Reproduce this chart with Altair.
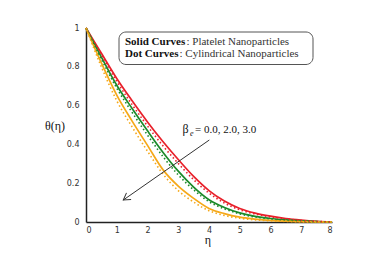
import altair as alt
import pandas as pd

eta = [0, 0.5, 1, 1.5, 2, 2.5, 3, 3.5, 4, 4.5, 5, 5.5, 6, 6.5, 7, 7.5, 8]

red_solid = [1, 0.87, 0.74, 0.625, 0.516, 0.415, 0.322, 0.235, 0.162, 0.108, 0.07, 0.046, 0.03, 0.018, 0.01, 0.004, 0]
red_dot = [1, 0.86, 0.725, 0.605, 0.495, 0.393, 0.302, 0.218, 0.149, 0.098, 0.063, 0.041, 0.026, 0.016, 0.008, 0.003, 0]
green_solid = [1, 0.85, 0.705, 0.585, 0.47, 0.36, 0.262, 0.18, 0.115, 0.075, 0.047, 0.029, 0.018, 0.011, 0.006, 0.002, 0]
green_dot = [1, 0.84, 0.69, 0.565, 0.448, 0.338, 0.243, 0.166, 0.105, 0.068, 0.042, 0.026, 0.016, 0.009, 0.005, 0.002, 0]
orange_solid = [1, 0.82, 0.654, 0.52, 0.395, 0.27, 0.185, 0.122, 0.07, 0.043, 0.025, 0.015, 0.008, 0.004, 0.002, 0.001, 0]
orange_dot = [1, 0.80, 0.625, 0.49, 0.365, 0.248, 0.162, 0.103, 0.058, 0.034, 0.019, 0.011, 0.006, 0.003, 0.001, 0, 0]

series_names = ["red", "green", "orange"]
series_colors = ["#e8202a", "#1b8a2a", "#f5a818"]
x_ticks = [0, 1, 2, 3, 4, 5, 6, 7, 8]
y_ticks = [0, 0.2, 0.4, 0.6, 0.8, 1]

rows = []
for name, style, vals in [
    ("red", "solid", red_solid), ("red", "dot", red_dot),
    ("green", "solid", green_solid), ("green", "dot", green_dot),
    ("orange", "solid", orange_solid), ("orange", "dot", orange_dot),
]:
    for e, v in zip(eta, vals):
        rows.append({"eta": e, "theta": v, "series": name, "style": style, "key": name + style})
df = pd.DataFrame(rows)

W, H = 246, 194

x_enc = alt.X("eta:Q", scale=alt.Scale(domain=[0, 8], nice=False),
              axis=alt.Axis(values=x_ticks, format="d", title=None, grid=False, ticks=False,
                            domainColor="#222", domainWidth=1.5, labelFont="DejaVu Sans",
                            labelFontSize=8, labelColor="#333", labelPadding=4))
y_enc = alt.Y("theta:Q", scale=alt.Scale(domain=[0, 1], nice=False),
              axis=alt.Axis(values=y_ticks, format="~g", title=None, grid=False, ticks=False,
                            domainColor="#222", domainWidth=1.5, labelFont="DejaVu Sans",
                            labelFontSize=8, labelColor="#333", labelPadding=7))

color = alt.Color("series:N", scale=alt.Scale(domain=series_names, range=series_colors), legend=None)

solid = alt.Chart(df[df["style"] == "solid"]).mark_line(strokeWidth=1.7, interpolate="monotone").encode(
    x=x_enc, y=y_enc, color=color, detail="key:N")
dot = alt.Chart(df[df["style"] == "dot"]).mark_line(strokeWidth=1.6, strokeDash=[1.5, 2.5],
                                                    interpolate="monotone").encode(
    x=x_enc, y=y_enc, color=color, detail="key:N")

one = pd.DataFrame({"a": [0]})

box = alt.Chart(one).mark_rect(cornerRadius=7, fill="white", stroke="#555", strokeWidth=1).encode(
    x=alt.value(33), x2=alt.value(227), y=alt.value(4), y2=alt.value(36.5))

def txt(s, x, y, size, weight="normal", style="normal", font="Liberation Serif", align="left",
        baseline="alphabetic", color="#111"):
    return alt.Chart(one).mark_text(text=s, font=font, fontSize=size, fontWeight=weight,
                                    fontStyle=style, align=align, baseline=baseline,
                                    color=color).encode(x=alt.value(x), y=alt.value(y))

leg = [
    txt("Solid Curves", 39, 16.5, 11, weight="bold"),
    txt(": Platelet Nanoparticles", 100.5, 16.5, 11, color="#333"),
    txt("Dot Curves", 39, 28.5, 11, weight="bold"),
    txt(": Cylindrical Nanoparticles", 93.5, 28.5, 11, color="#333"),
]

beta = [
    txt("β", 96.5, 105, 12),
    txt("e", 104, 108, 8, style="italic"),
    txt("= 0.0, 2.0, 3.0", 109, 105, 11),
]

arrow = alt.Chart(one).mark_rule(color="#333", strokeWidth=1).encode(
    x=alt.value(123.3), y=alt.value(112), x2=alt.value(37.3), y2=alt.value(172))
head = alt.Chart(one).mark_point(shape="M -1 -0.6 L 0 0 L -1 0.6", filled=False, stroke="#333",
                                 strokeWidth=1, size=180, angle=145, opacity=1).encode(
    x=alt.value(37.3), y=alt.value(172))

titles = [
    txt("θ(η)", -31, 98, 12, align="center", baseline="middle"),
    txt("η", 122, 212, 12, align="center", baseline="middle"),
]

chart = alt.layer(solid, dot, box, *leg, *beta, arrow, head, *titles).properties(
    width=W, height=H,
    autosize=alt.AutoSizeParams(type="none"),
    padding={"left": 78, "top": 20, "right": 34, "bottom": 43},
    background="white",
).configure_view(stroke=None)

chart.save("out.html", embed_options={"renderer": "svg", "actions": False})
